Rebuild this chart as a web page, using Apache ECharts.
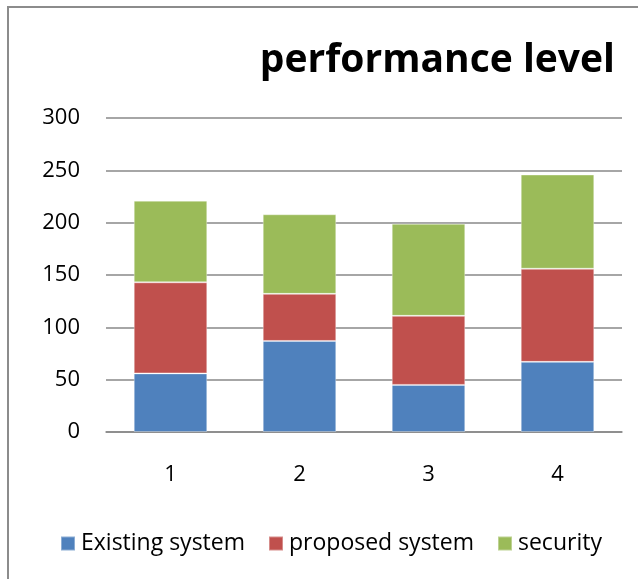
<!DOCTYPE html>
<html>
<head>
<meta charset="utf-8">
<script src="https://cdn.jsdelivr.net/npm/echarts@6/dist/echarts.min.js"></script>
<style>
  html, body { margin: 0; padding: 0; background: #fff; }
  #chart { width: 638px; height: 579px; }
</style>
</head>
<body>
<div id="chart"></div>
<script>
// Stacked performance values per run
const categories = ['1', '2', '3', '4'];
const seriesNames = ['Existing system', 'proposed system', 'security'];
const existingSystem = [56, 87, 45, 67];
const proposedSystem = [87, 45, 66, 89];
const security = [78, 76, 88, 90];
const yTicks = [0, 50, 100, 150, 200, 250, 300];

const colors = ['#4F81BD', '#C0504D', '#9BBB59'];
const font = '"Open Sans", "Noto Sans", sans-serif';

const chart = echarts.init(document.getElementById('chart'), null, { renderer: 'canvas' });

function barSeries(name, data, color) {
  return {
    name: name,
    type: 'bar',
    stack: 'total',
    data: data,
    barWidth: '57%',
    itemStyle: { color: color, borderColor: 'rgba(255,255,255,0.35)', borderWidth: 1 }
  };
}

chart.setOption({
  animation: false,
  backgroundColor: '#fff',
  graphic: [{
    type: 'rect',
    shape: { x: 8, y: 7, width: 640, height: 590 },
    style: { fill: 'none', stroke: '#8c8c8c', lineWidth: 2 },
    silent: true
  }],
  title: {
    text: 'performance level',
    right: 18,
    top: 36,
    textStyle: { fontFamily: font, fontWeight: 'bold', fontSize: 39, color: '#000' }
  },
  legend: {
    data: seriesNames,
    bottom: 19,
    left: 55,
    itemWidth: 14,
    itemHeight: 14,
    itemGap: 23,
    icon: 'rect',
    textStyle: { fontFamily: font, fontSize: 23, color: '#000', padding: [0, 0, 0, 1] }
  },
  grid: { left: 106, right: 16, top: 118, bottom: 147, containLabel: false },
  xAxis: {
    type: 'category',
    data: categories,
    axisTick: { show: false },
    axisLine: { lineStyle: { color: '#888', width: 1.5 } },
    axisLabel: { fontFamily: font, fontSize: 22, color: '#000', margin: 32 }
  },
  yAxis: {
    type: 'value',
    min: yTicks[0],
    max: yTicks[yTicks.length - 1],
    interval: yTicks[1] - yTicks[0],
    axisLine: { show: false },
    axisTick: { show: false },
    splitLine: { lineStyle: { color: '#888', width: 1.5 } },
    axisLabel: { fontFamily: font, fontSize: 22, color: '#000', margin: 26 }
  },
  series: [
    barSeries(seriesNames[0], existingSystem, colors[0]),
    barSeries(seriesNames[1], proposedSystem, colors[1]),
    barSeries(seriesNames[2], security, colors[2])
  ]
});
</script>
</body>
</html>
